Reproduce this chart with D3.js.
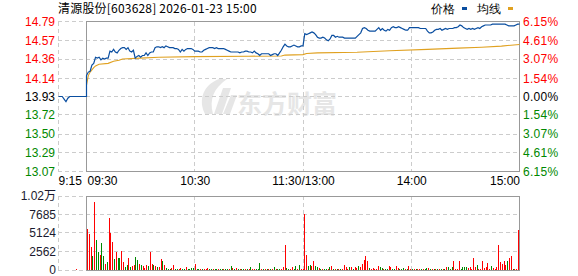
<!DOCTYPE html>
<html>
<head>
<meta charset="utf-8">
<script src="https://cdn.jsdelivr.net/npm/d3@7"></script>
<style>
  body { margin: 0; background: #fff; }
  svg { display: block; }
  text { font-family: Arial, "Liberation Sans", sans-serif; font-size: 12px; }
</style>
</head>
<body>
<div id="chart"></div>
<script>
// ---- data ----
const title = '清源股份[603628] 2026-01-23 15:00';
const preClose = 13.93;
const priceTicks = [14.79, 14.57, 14.36, 14.14, 13.93, 13.72, 13.50, 13.29, 13.07];
const pctLabels = ['6.15%', '4.61%', '3.07%', '1.54%', '0.00%', '1.54%', '3.07%', '4.61%', '6.15%'];
const volTicks = [10247, 7685, 5124, 2562, 0];
const volLabels = ['1.02万', '7685', '5124', '2562', '0'];
const timeTicks = [-15, 0, 60, 120, 180, 240];
const timeLabels = ['9:15', '09:30', '10:30', '11:30/13:00', '14:00', '15:00'];

// call auction 9:15 .. 9:25 (minutes before the open)
const auctionMin = [-15, -14, -13, -12, -11, -10, -9, -8, -7, -6, -5];
const auctionPrice = [13.93, 13.93, 13.93, 13.90, 13.87, 13.91, 13.93, 13.93, 13.93, 13.93, 13.93];
const auctionVol = 140;

// one value per trading minute, 09:30 .. 11:30 then 13:01 .. 15:00
const price = [
  14.17, 14.21, 14.22, 14.29, 14.31, 14.38, 14.37, 14.38, 14.35, 14.37,
  14.36, 14.37, 14.37, 14.45, 14.44, 14.47, 14.44, 14.43, 14.46, 14.48,
  14.49, 14.49, 14.47, 14.49, 14.45, 14.44, 14.46, 14.37, 14.39, 14.40,
  14.38, 14.40, 14.40, 14.43, 14.40, 14.43, 14.44, 14.44, 14.49, 14.50,
  14.50, 14.49, 14.50, 14.49, 14.51, 14.50, 14.49, 14.49, 14.49, 14.48,
  14.48, 14.47, 14.44, 14.47, 14.45, 14.47, 14.48, 14.48, 14.48, 14.47,
  14.45, 14.45, 14.45, 14.44, 14.44, 14.46, 14.47, 14.48, 14.49, 14.49,
  14.49, 14.48, 14.49, 14.48, 14.48, 14.48, 14.48, 14.47, 14.46, 14.45,
  14.44, 14.44, 14.44, 14.44, 14.44, 14.43, 14.44, 14.44, 14.45, 14.45,
  14.44, 14.44, 14.43, 14.45, 14.43, 14.42, 14.40, 14.42, 14.42, 14.42,
  14.42, 14.42, 14.40, 14.41, 14.42, 14.42, 14.40, 14.43, 14.46, 14.50,
  14.53, 14.51, 14.50, 14.50, 14.51, 14.52, 14.51, 14.50, 14.50, 14.51,
  14.51, 14.65, 14.64, 14.65, 14.66, 14.67, 14.66, 14.64, 14.61, 14.60,
  14.60, 14.61, 14.60, 14.58, 14.57, 14.59, 14.63, 14.63, 14.61, 14.62,
  14.61, 14.61, 14.61, 14.60, 14.60, 14.60, 14.60, 14.60, 14.60, 14.60,
  14.62, 14.64, 14.66, 14.71, 14.72, 14.71, 14.69, 14.68, 14.68, 14.68,
  14.68, 14.70, 14.72, 14.69, 14.71, 14.69, 14.68, 14.70, 14.69, 14.72,
  14.73, 14.72, 14.72, 14.73, 14.72, 14.71, 14.70, 14.69, 14.69, 14.72,
  14.72, 14.72, 14.72, 14.72, 14.72, 14.71, 14.71, 14.71, 14.71, 14.68,
  14.66, 14.66, 14.67, 14.69, 14.70, 14.70, 14.71, 14.69, 14.70, 14.71,
  14.70, 14.71, 14.71, 14.71, 14.72, 14.72, 14.73, 14.75, 14.74, 14.72,
  14.71, 14.70, 14.71, 14.70, 14.71, 14.70, 14.71, 14.72, 14.71, 14.73,
  14.74, 14.75, 14.75, 14.75, 14.75, 14.76, 14.76, 14.76, 14.76, 14.76,
  14.76, 14.76, 14.76, 14.75, 14.74, 14.74, 14.74, 14.74, 14.75, 14.76, 14.76
];

// average price line, read at the minutes where it visibly steps
const avgMin = [0, 1, 2, 4, 5, 7, 12, 15, 18, 20, 30, 40, 60, 90, 108, 110, 120, 122, 128, 150, 168, 189, 206, 219, 230, 240];
const avgPrice = [14.06, 14.17, 14.21, 14.26, 14.28, 14.30, 14.31, 14.335, 14.345, 14.36, 14.37, 14.38, 14.387, 14.392,
  14.394, 14.405, 14.41, 14.423, 14.43, 14.438, 14.455, 14.47, 14.485, 14.495, 14.508, 14.527];

const volume = [
  5680, 4990, 3190, 1940, 9420, 4160, 2540, 2080, 3790, 1940,
  830, 1150, 7200, 5080, 3880, 1570, 2540, 1710, 1620, 2680,
  1150, 370, 650, 1710, 460, 600, 740, 1750, 1380, 830,
  650, 510, 280, 690, 600, 2490, 830, 690, 550, 410,
  460, 1520, 1240, 650, 280, 180, 180, 230, 690, 140,
  180, 180, 230, 180, 180, 410, 180, 180, 320, 320,
  830, 140, 140, 140, 140, 140, 140, 280, 140, 140,
  140, 140, 140, 140, 140, 140, 140, 140, 140, 140,
  550, 280, 140, 280, 140, 140, 140, 140, 140, 140,
  140, 415, 140, 140, 140, 140, 970, 140, 140, 140,
  140, 140, 140, 140, 415, 140, 140, 140, 140, 415,
  3510, 280, 140, 140, 415, 140, 550, 140, 690, 140,
  140, 7760, 2080, 600, 740, 600, 1250, 600, 415, 280,
  140, 140, 140, 140, 140, 415, 550, 140, 140, 140,
  140, 140, 140, 740, 415, 140, 415, 415, 140, 415,
  280, 550, 415, 830, 1430, 1990, 1250, 280, 140, 280,
  140, 140, 550, 415, 280, 140, 140, 140, 550, 415,
  140, 140, 550, 280, 140, 140, 280, 140, 140, 550,
  140, 140, 140, 140, 140, 140, 140, 140, 140, 280,
  280, 140, 140, 140, 140, 140, 140, 140, 140, 140,
  415, 415, 140, 415, 1250, 140, 140, 1250, 140, 415,
  415, 415, 280, 415, 140, 1660, 415, 690, 140, 140,
  1250, 280, 415, 970, 140, 550, 280, 140, 415, 3460,
  1110, 830, 1250, 690, 1250, 1660, 1940, 140, 140, 140, 5590
];
// R = traded up (red), G = traded down (green)
const volSide = ('RRRGRGGRGG' + 'RGRRRGRGGR' + 'RGGRGRRGGR' + 'GRRRGRRGRG' + 'RRGRGGGRRG' +
  'GRRGGRGGGG' + 'RGGRGRRRGG' + 'RGGRGGRGGR' + 'GRGRGRGGRG' + 'RGRRGGGRGR' +
  'GRGRGRGGRR' + 'RGGRRGGRGR' + 'RRRGGRRGGR' + 'GRGGRGRGRG' + 'RGRRRRGRGR' +
  'RGRRRRRGRR' + 'RRRGGRGGRR' + 'GGRRGGGRGR' + 'RGRGRRGRGG' + 'RGRGRGRGRG' +
  'RGGGRRRRGG' + 'GGRRRRRGRR' + 'RRRRRGRRRR' + 'RRRRGRRGRRR').split('');

// ---- drawing ----
const width = 578, height = 276;
const up = '#ff0000', down = '#008800', grid = '#cccccc', frame = '#999999';

const svg = d3.select('#chart').append('svg')
  .attr('width', width).attr('height', height);
svg.append('rect').attr('width', width).attr('height', height).attr('fill', '#fff');

// minutes from 09:30; the call auction is squeezed into the left strip
const x = d3.scaleLinear().domain([-15, 0, 240]).range([58.5, 86.5, 519.5]);
const xBar = d3.scaleLinear().domain([0, 240]).range([87, 518]);
const y = d3.scaleLinear().domain([13.07, 14.79]).range([171.5, 21.5]);
const yVol = d3.scaleLinear().domain([0, 10247]).range([270, 196]);
const crisp = v => Math.round(v - 0.5) + 0.5;

// watermark
const wm = svg.append('g').attr('fill', '#e6e6e6');
wm.append('path')
  .attr('d', 'M205,114 C198,100 203,85 219,79 L227,79 C214,88 209,99 213,114 Z M214,114 L223,88 L231,88 L222,114 Z M223,114 L231,95 L237,95 L230,114 Z');
wm.append('text').attr('x', 237).attr('y', 113)
  .style('font-family', '"Noto Sans CJK SC", sans-serif').style('font-size', '25px').style('font-weight', 'bold')
  .text('东方财富');

// price grid
const g = svg.append('g').attr('stroke', grid).attr('stroke-dasharray', '4,3').attr('fill', 'none').attr('shape-rendering', 'crispEdges');
priceTicks.forEach(p => {
  g.append('line').attr('x1', 58).attr('x2', 519).attr('y1', crisp(y(p))).attr('y2', crisp(y(p)));
});
volTicks.forEach(v => {
  g.append('line').attr('x1', 58).attr('x2', 519).attr('y1', crisp(yVol(v))).attr('y2', crisp(yVol(v)));
});
[-15, 60, 120, 180].forEach(m => {
  g.append('line').attr('x1', crisp(x(m))).attr('x2', crisp(x(m))).attr('y1', 22).attr('y2', 172);
  g.append('line').attr('x1', crisp(x(m))).attr('x2', crisp(x(m))).attr('y1', 196).attr('y2', 270);
});

// frames
const f = svg.append('g').attr('stroke', frame).attr('fill', 'none').attr('shape-rendering', 'crispEdges');
f.append('rect').attr('x', 86.5).attr('y', crisp(y(14.79))).attr('width', 433).attr('height', crisp(y(13.07)) - crisp(y(14.79)));
f.append('rect').attr('x', 86.5).attr('y', 196.5).attr('width', 433).attr('height', 74);

// average line
svg.append('path')
  .datum(avgMin.map((m, i) => [m, avgPrice[i]]))
  .attr('fill', 'none').attr('stroke', '#e0a120').attr('stroke-width', 1.1)
  .attr('d', d3.line().x(d => x(d[0])).y(d => y(d[1])));

// price line (auction strip + session)
const pts = auctionMin.map((m, i) => [m, auctionPrice[i]]);
pts.push([0, auctionPrice[auctionPrice.length - 1]]);
price.forEach((p, i) => pts.push([i, p]));
svg.append('path')
  .datum(pts)
  .attr('fill', 'none').attr('stroke', '#0a4ea0').attr('stroke-width', 1.2)
  .attr('d', d3.line().x(d => x(d[0])).y(d => y(d[1])));

// volume bars
svg.append('g').attr('shape-rendering', 'crispEdges')
  .selectAll('rect').data(volume).enter().append('rect')
  .attr('x', (d, i) => Math.round(xBar(i)))
  .attr('width', 1)
  .attr('y', d => 270 - Math.max(1, Math.round(yVol(0) - yVol(d))))
  .attr('height', d => Math.max(1, Math.round(yVol(0) - yVol(d))))
  .attr('fill', (d, i) => volSide[i] === 'G' ? down : up);
svg.append('rect').attr('x', Math.round(x(-5)) - 1).attr('width', 1)
  .attr('y', 269).attr('height', Math.max(1, Math.round(yVol(0) - yVol(auctionVol)))).attr('fill', up);

// axes
const colorFor = p => p > preClose ? up : (p < preClose ? down : '#000');

const left = svg.append('g').attr('transform', 'translate(55,0)')
  .call(d3.axisLeft(y).tickValues(priceTicks).tickSize(0).tickPadding(0).tickFormat(d3.format('.2f')));
left.select('.domain').remove();
left.selectAll('text').attr('fill', d => colorFor(d)).style('font-size', '12px').style('font-family', 'Arial, "Liberation Sans", sans-serif');

const right = svg.append('g').attr('transform', 'translate(523,0)')
  .call(d3.axisRight(y).tickValues(priceTicks).tickSize(0).tickPadding(0).tickFormat((d, i) => pctLabels[i]));
right.select('.domain').remove();
right.selectAll('text').attr('fill', d => colorFor(d)).style('font-size', '12px')
  .style('font-family', 'Arial, "Liberation Sans", sans-serif').style('letter-spacing', '0.3px');

const vAxis = svg.append('g').attr('transform', 'translate(56,0)')
  .call(d3.axisLeft(yVol).tickValues(volTicks).tickSize(0).tickPadding(0).tickFormat((d, i) => volLabels[i]));
vAxis.select('.domain').remove();
vAxis.selectAll('text').attr('fill', '#1a1a2e').style('font-size', '12px').style('font-family', 'Arial, "Noto Sans CJK SC", sans-serif');

const tAxis = svg.append('g').attr('transform', 'translate(0,176)')
  .call(d3.axisBottom(x).tickValues(timeTicks).tickSize(0).tickPadding(0).tickFormat((d, i) => timeLabels[i]));
tAxis.select('.domain').remove();
tAxis.selectAll('text')
  .attr('fill', '#000')
  .style('font-size', '12px').style('font-family', 'Arial, "Liberation Sans", sans-serif')
  .attr('text-anchor', (d, i) => i < 2 ? 'start' : (i === timeTicks.length - 1 ? 'end' : 'middle'))
  .attr('dx', (d, i) => i === 0 ? -0.5 : (i === 1 ? 0.5 : 0));

// title and legend
svg.append('text').attr('x', 58).attr('y', 13)
  .style('font-family', '"Noto Sans CJK SC", sans-serif').style('font-size', '12px').style('letter-spacing', '0.2px')
  .attr('fill', '#000').text(title);

const legend = svg.append('g').style('font-family', '"Noto Sans CJK SC", sans-serif');
legend.append('text').attr('x', 431).attr('y', 13).style('font-size', '12px').text('价格');
legend.append('rect').attr('x', 462).attr('y', 7).attr('width', 5).attr('height', 3).attr('fill', '#0a4ea0');
legend.append('text').attr('x', 477).attr('y', 13).style('font-size', '12px').text('均线');
legend.append('rect').attr('x', 508).attr('y', 7).attr('width', 5).attr('height', 3).attr('fill', '#e0a120');
</script>
</body>
</html>
